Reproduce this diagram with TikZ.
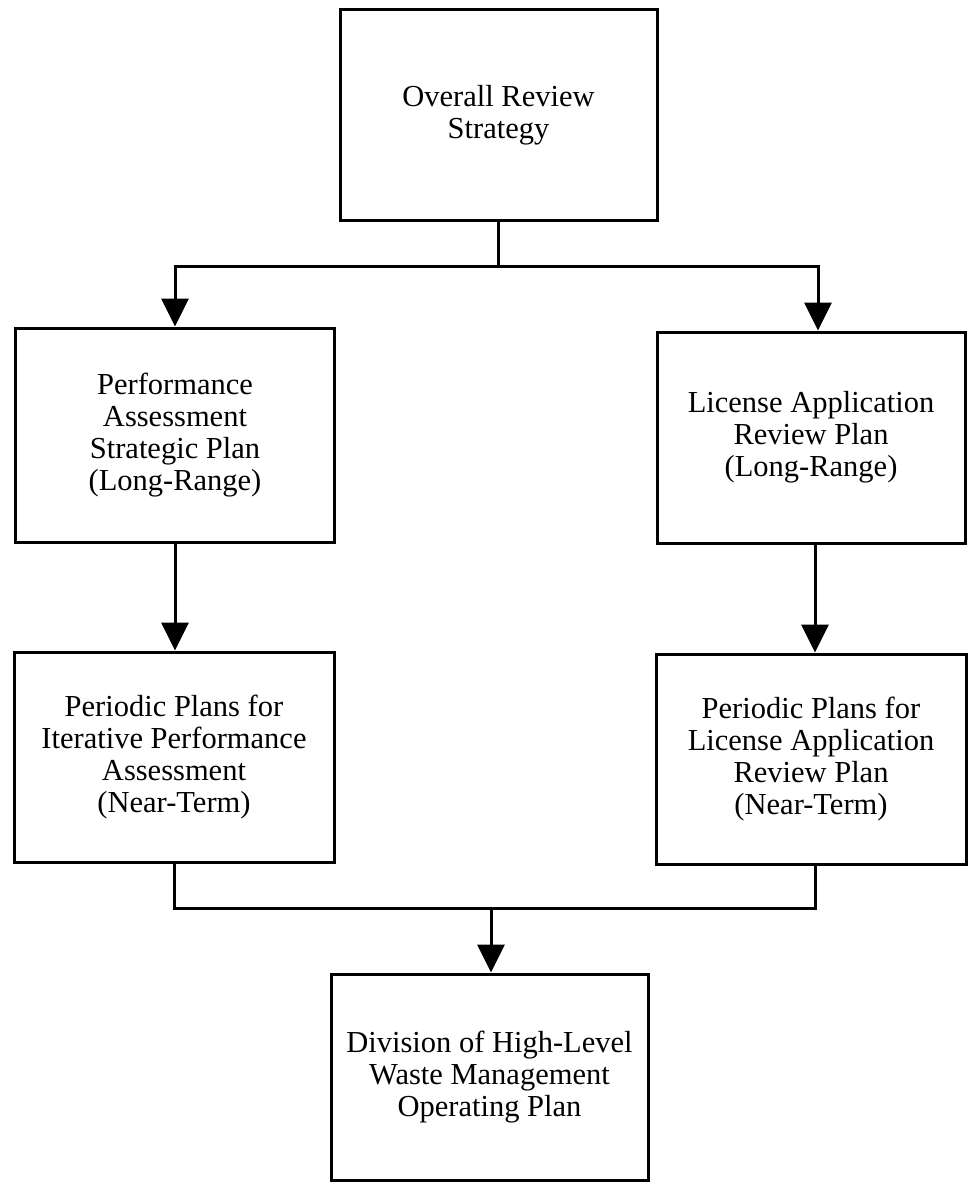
\documentclass[tikz,border=0pt]{standalone}
\usepackage{fontspec}
\setmainfont{Liberation Serif}
\usetikzlibrary{arrows.meta}
\begin{document}
\begin{tikzpicture}[x=1pt,y=-1pt,
  box/.style={draw,line width=3pt,rectangle,align=center,inner sep=0pt,
    font=\fontsize{30.5}{32}\selectfont},
  conn/.style={line width=3pt},
  arr/.style={line width=3pt,-{Triangle[width=27pt,length=28pt]}}]
\useasboundingbox (0,0) rectangle (968,1182);
\node[box,minimum width=317pt,minimum height=211pt] (top) at (498.5,115.5) {Overall Review\\Strategy};
\node[box,minimum width=319pt,minimum height=214pt] (L2) at (175,435) {Performance\\Assessment\\Strategic Plan\\(Long-Range)};
\node[box,minimum width=308pt,minimum height=211pt] (R2) at (811,437.5) {License Application\\Review Plan\\(Long-Range)};
\node[box,minimum width=320pt,minimum height=210pt] (L3) at (174,757) {Periodic Plans for\\Iterative Performance\\Assessment\\(Near-Term)};
\node[box,minimum width=310pt,minimum height=210pt] (R3) at (811,759) {Periodic Plans for\\License Application\\Review Plan\\(Near-Term)};
\node[box,minimum width=317pt,minimum height=206pt] (B) at (489.5,1077) {Division of High-Level\\Waste Management\\Operating Plan};
\coordinate (j1) at (498.5,266);
\coordinate (hL) at (175,266);
\coordinate (hR) at (818,266);
\coordinate (j2) at (491,908);
\coordinate (r2b) at ([xshift=4pt]R2.south);
\coordinate (r3t) at ([xshift=4pt]R3.north);
\coordinate (r3b) at ([xshift=4pt]R3.south);
\draw[conn] (top.south) -- (j1);
\draw[arr] (j1) -- (hL) -- (hL |- L2.north);
\draw[arr] (j1) -- (hR) -- (hR |- R2.north);
\draw[arr] (L2.south) -- (L2.south |- L3.north);
\draw[arr] (r2b) -- (r3t);
\draw[conn] (L3.south) -- (L3.south |- j2) -- (r3b |- j2) -- (r3b);
\draw[arr] (j2) -- (j2 |- B.north);
\end{tikzpicture}
\end{document}
